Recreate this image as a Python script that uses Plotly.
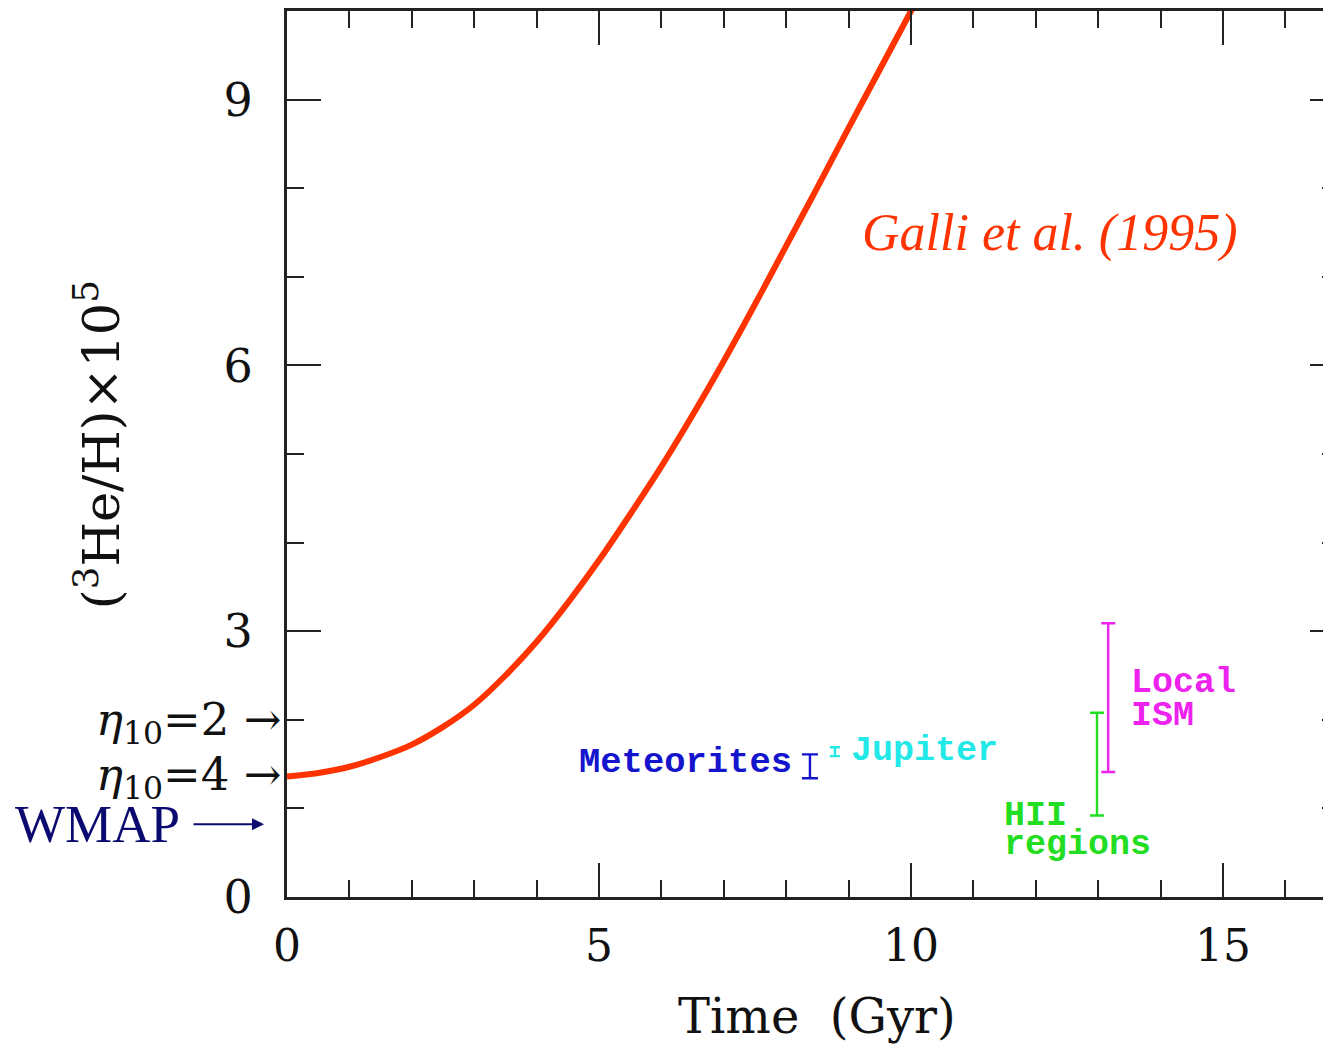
import plotly.graph_objects as go

# ---- data ----
time_gyr = [0, 0.5, 1, 1.5, 2, 2.5, 3, 3.5, 4, 4.5, 5, 5.5, 6, 6.5, 7, 7.5, 8, 8.5, 9, 9.5, 10, 10.1]
he3_galli = [1.36, 1.40, 1.47, 1.58, 1.72, 1.92, 2.17, 2.50, 2.88, 3.32, 3.80, 4.32, 4.86,
             5.44, 6.05, 6.69, 7.35, 8.01, 8.68, 9.34, 10.0, 10.13]

obs_names = ["Meteorites", "Jupiter", "Local ISM", "HII regions"]
obs_time = [8.38, 8.78, 13.16, 12.98]
obs_value = [1.475, 1.64, 2.25, 1.50]
obs_err = [0.135, 0.05, 0.84, 0.58]
obs_colors = ["#1414CC", "#22E8E8", "#EE22EE", "#22DD22"]

eta_labels = ["2", "4"]
eta_values = [2.0, 1.38]
wmap_value = 0.82

x_ticks = [0, 5, 10, 15]
y_ticks = [0, 3, 6, 9]

CURVE = "#FF3300"
SERIF = "DejaVu Serif"
MONO = "Liberation Mono"

fig = go.Figure()
fig.add_trace(go.Scatter(x=time_gyr, y=he3_galli, mode="lines",
                         line=dict(color=CURVE, width=6, shape="spline", smoothing=0.8),
                         showlegend=False, hoverinfo="skip"))

cap_w = [8, 5, 7, 7]
for i in range(len(obs_names)):
    fig.add_trace(go.Scatter(
        x=[obs_time[i]], y=[obs_value[i]], mode="markers",
        marker=dict(size=1, color=obs_colors[i], opacity=0),
        error_y=dict(type="data", array=[obs_err[i]], symmetric=True,
                     color=obs_colors[i], thickness=2.4, width=cap_w[i]),
        showlegend=False, hoverinfo="skip"))

# invisible trace to carry right-hand tick axis
fig.add_trace(go.Scatter(x=[time_gyr[0]], y=[he3_galli[0]], yaxis="y2", mode="markers",
                         marker=dict(opacity=0), showlegend=False, hoverinfo="skip"))

AX = "#222222"
fig.update_layout(
    width=1323, height=1039, autosize=False,
    margin=dict(l=279, r=0, t=3, b=150),
    paper_bgcolor="white", plot_bgcolor="white",
    xaxis=dict(range=[0, 16.73], tickvals=x_ticks, ticktext=[str(v) for v in x_ticks],
               ticks="inside", ticklen=34, tickwidth=2, tickcolor=AX,
               minor=dict(dtick=1, tick0=0, ticks="inside", ticklen=17, tickwidth=2, tickcolor=AX),
               showline=True, linecolor=AX, linewidth=3, mirror="ticks",
               showgrid=False, zeroline=False,
               tickfont=dict(family=SERIF, size=44, color="#111"),
               ticklabelstandoff=8),
    yaxis=dict(range=[0, 10], tickvals=y_ticks, ticktext=[str(v) for v in y_ticks],
               ticks="inside", ticklen=34, tickwidth=2, tickcolor=AX,
               minor=dict(dtick=1, tick0=0, ticks="inside", ticklen=17, tickwidth=2, tickcolor=AX),
               showline=True, linecolor=AX, linewidth=3, mirror=False,
               showgrid=False, zeroline=False,
               tickfont=dict(family=SERIF, size=46, color="#111"),
               ticklabelstandoff=22),
    yaxis2=dict(range=[0, 10], overlaying="y", side="right", anchor="x",
                tickvals=[3, 6, 9], showticklabels=False,
                ticks="inside", ticklen=21, tickwidth=2, tickcolor=AX,
                minor=dict(dtick=1, tick0=0, ticks="inside", ticklen=9, tickwidth=2, tickcolor=AX),
                showline=False, showgrid=False, zeroline=False),
)

ann = []
# axis titles
ann.append(dict(text="Time  (Gyr)", xref="paper", yref="paper", x=0.508, y=-0.1343,
                showarrow=False, font=dict(family=SERIF, size=48, color="#111"),
                xanchor="center", yanchor="middle"))
ann.append(dict(text="(<sup>3</sup>He/H)×10<sup>5</sup>", xref="paper", yref="paper",
                x=-0.181, y=0.51, textangle=-90, showarrow=False,
                font=dict(family=SERIF, size=51, color="#111"),
                xanchor="center", yanchor="middle"))
# Galli label
ann.append(dict(text="<i>Galli et al. (1995)</i>", xref="x", yref="y", x=9.18, y=7.49,
                showarrow=False, xanchor="left", yanchor="middle",
                font=dict(family="Liberation Serif", size=52, color=CURVE)))
# observation labels
ann.append(dict(text="<b>Meteorites</b>", xref="x", yref="y", x=8.12, y=1.52, showarrow=False,
                xanchor="right", yanchor="middle",
                font=dict(family=MONO, size=35.5, color=obs_colors[0])))
ann.append(dict(text="<b>Jupiter</b>", xref="x", yref="y", x=9.0, y=1.65, showarrow=False,
                xanchor="left", yanchor="middle",
                font=dict(family=MONO, size=35, color=obs_colors[1])))
ann.append(dict(text="<b>Local</b>", xref="x", yref="y", x=13.5, y=2.42, showarrow=False,
                xanchor="left", yanchor="middle",
                font=dict(family=MONO, size=35, color=obs_colors[2])))
ann.append(dict(text="<b>ISM</b>", xref="x", yref="y", x=13.5, y=2.04, showarrow=False,
                xanchor="left", yanchor="middle",
                font=dict(family=MONO, size=35, color=obs_colors[2])))
ann.append(dict(text="<b>HII</b>", xref="x", yref="y", x=11.45, y=0.91, showarrow=False,
                xanchor="left", yanchor="middle",
                font=dict(family=MONO, size=35, color=obs_colors[3])))
ann.append(dict(text="<b>regions</b>", xref="x", yref="y", x=11.45, y=0.59, showarrow=False,
                xanchor="left", yanchor="middle",
                font=dict(family=MONO, size=35, color=obs_colors[3])))
# eta labels
for lab, val in zip(eta_labels, eta_values):
    ann.append(dict(text="<i>η</i><sub>10</sub>=" + lab + " →", xref="paper", yref="y",
                    x=-0.004, y=val, showarrow=False, xanchor="right", yanchor="middle",
                    yshift=-2, font=dict(family=SERIF, size=45, color="#111")))
# WMAP
ann.append(dict(text="WMAP", xref="paper", yref="y", x=-0.101, y=wmap_value, showarrow=False,
                xanchor="right", yanchor="middle",
                font=dict(family="Liberation Serif", size=53, color="#0A0A70")))
ann.append(dict(text="", xref="paper", yref="y", x=-0.022, y=wmap_value,
                ax=-72, ay=0, showarrow=True, arrowhead=2, arrowsize=1.2, arrowwidth=2,
                arrowcolor="#0A0A70", standoff=0, startstandoff=0))
fig.update_layout(annotations=ann)

fig.write_html("out.html")
